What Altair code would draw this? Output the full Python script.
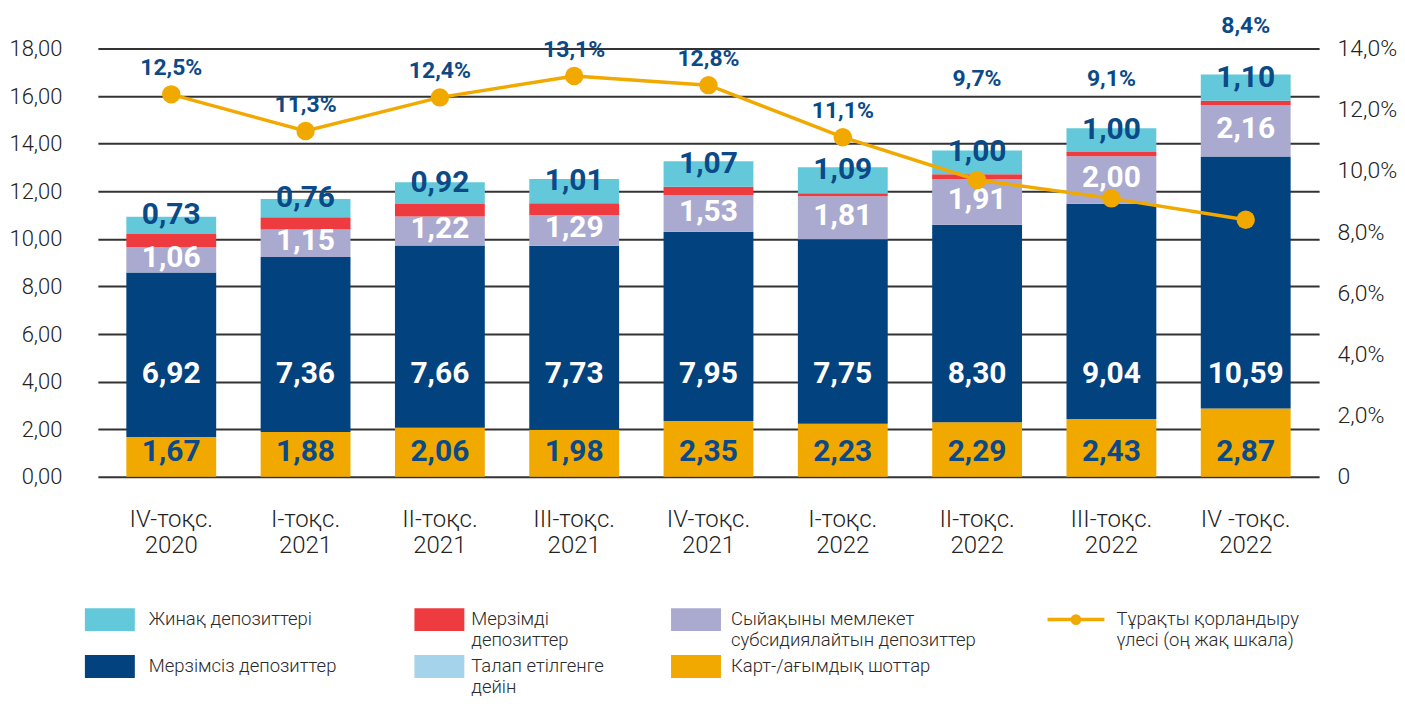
import altair as alt
import pandas as pd

quarters = ["IV-тоқс.\n2020", "I-тоқс.\n2021", "II-тоқс.\n2021", "III-тоқс.\n2021",
            "IV-тоқс.\n2021", "I-тоқс.\n2022", "II-тоқс.\n2022", "III-тоқс.\n2022",
            "IV -тоқс.\n2022"]

# stacked components (bottom -> top), trillions
current_acc = [1.67, 1.88, 2.06, 1.98, 2.35, 2.23, 2.29, 2.43, 2.87]   # Карт-/ағымдық шоттар
nonterm_dep = [6.92, 7.36, 7.66, 7.73, 7.95, 7.75, 8.30, 9.04, 10.59]  # Мерзімсіз депозиттер
demand_dep = [0.0, 0.0, 0.0, 0.0, 0.0, 0.0, 0.0, 0.0, 0.0]             # Талап етілгенге дейін
subsid_dep = [1.06, 1.15, 1.22, 1.29, 1.53, 1.81, 1.91, 2.00, 2.16]    # Сыйақыны мемлекет субсидиялайтын
term_dep = [0.55, 0.52, 0.52, 0.50, 0.36, 0.13, 0.21, 0.18, 0.18]      # Мерзімді депозиттер
savings_dep = [0.73, 0.76, 0.92, 1.01, 1.07, 1.09, 1.00, 1.00, 1.10]   # Жинақ депозиттері

stable_share = [12.5, 11.3, 12.4, 13.1, 12.8, 11.1, 9.7, 9.1, 8.4]     # %, right scale

series_names = ["Карт-/ағымдық шоттар", "Мерзімсіз депозиттер", "Талап етілгенге дейін",
                "Сыйақыны мемлекет субсидиялайтын депозиттер", "Мерзімді депозиттер",
                "Жинақ депозиттері"]
series_colors = ["#F1A900", "#02427F", "#A6D3EC", "#AAAAD0", "#EE3B3F", "#63C9DA"]
series_values = [current_acc, nonterm_dep, demand_dep, subsid_dep, term_dep, savings_dep]

LBL_BLUE = "#0B4A87"
LINE_ORANGE = "#F1A900"
FONT = "Roboto"
LEFT_MAX = 18.0
RIGHT_MAX = 14.0

# ---- build stacked table
rows = []
totals = []
for i, q in enumerate(quarters):
    base = 0.0
    for s, vals in zip(series_names, series_values):
        v = vals[i]
        rows.append({"q": q, "series": s, "y0": base, "y1": base + v, "value": v,
                     "label": f"{v:.2f}".replace(".", ",")})
        base += v
    totals.append(base)
bars = pd.DataFrame(rows)


def label_pos(r):
    s = r["series"]
    if s == "Карт-/ағымдық шоттар":
        return 1.03
    if s == "Мерзімсіз депозиттер":
        return 4.30
    if s == "Жинақ депозиттері":
        return (r["y0"] + r["y1"]) / 2 + 0.42
    return (r["y0"] + r["y1"]) / 2 + 0.08


bars["ly"] = bars.apply(label_pos, axis=1)
white_lbl = bars[bars["series"].isin(["Мерзімсіз депозиттер",
                                      "Сыйақыны мемлекет субсидиялайтын депозиттер"])]
blue_lbl = bars[bars["series"].isin(["Карт-/ағымдық шоттар", "Жинақ депозиттері"])]

line_rows = []
for i, q in enumerate(quarters):
    r = stable_share[i]
    top_pct = totals[i] * RIGHT_MAX / LEFT_MAX
    ly = r + 0.85 if r > top_pct else max(top_pct + 1.6, 13.0)
    line_rows.append({"q": q, "share": r, "ly": ly,
                      "label": f"{r:.1f}".replace(".", ",") + "%"})
line_df = pd.DataFrame(line_rows)

W, H = 1223, 429

x_enc = alt.X("q:N", sort=quarters,
              scale=alt.Scale(paddingInner=0.331, paddingOuter=0.212),
              axis=alt.Axis(title=None, labelAngle=0, ticks=False, domain=False,
                            labelExpr="split(datum.label, '\\n')",
                            labelPadding=31, labelFontSize=24, labelFont=FONT,
                            labelFontWeight=300, labelColor="#222222",
                            labelLineHeight=26, labelBaseline="top"))

yL = alt.Scale(domain=[0, LEFT_MAX], nice=False, zero=True)
yR = alt.Scale(domain=[0, RIGHT_MAX], nice=False, zero=True)

bar_layer = alt.Chart(bars).mark_bar().encode(
    x=x_enc,
    y=alt.Y("y1:Q", scale=yL,
            axis=alt.Axis(title=None, values=list(range(0, 19, 2)),
                          labelExpr="replace(format(datum.value, '.2f'), '.', ',')",
                          grid=True, gridColor="#333333", gridWidth=2, ticks=False,
                          tickSize=0, domain=False, labelPadding=36, labelFontSize=22,
                          labelFont=FONT, labelFontWeight=300, labelColor="#222222")),
    y2="y0:Q",
    color=alt.Color("series:N", scale=alt.Scale(domain=series_names, range=series_colors),
                    legend=None),
)

txt_white = alt.Chart(white_lbl).mark_text(
    font=FONT, fontWeight="bold", fontSize=30, color="white", baseline="middle"
).encode(x=alt.X("q:N", sort=quarters), y=alt.Y("ly:Q", scale=yL), text="label:N")

txt_blue = alt.Chart(blue_lbl).mark_text(
    font=FONT, fontWeight="bold", fontSize=30, color=LBL_BLUE, baseline="middle"
).encode(x=alt.X("q:N", sort=quarters), y=alt.Y("ly:Q", scale=yL), text="label:N")

left = alt.layer(bar_layer, txt_white, txt_blue)

line = alt.Chart(line_df).mark_line(color=LINE_ORANGE, strokeWidth=3.5).encode(
    x=alt.X("q:N", sort=quarters),
    y=alt.Y("share:Q", scale=yR,
            axis=alt.Axis(orient="right", title=None, values=list(range(0, 15, 2)),
                          labelExpr="datum.value == 0 ? '0' : replace(format(datum.value, '.1f'), '.', ',') + '%'",
                          grid=False, ticks=False, tickSize=0, domain=False,
                          labelPadding=18, labelFontSize=23, labelFont=FONT,
                          labelFontWeight=300, labelColor="#222222")),
)
pts = alt.Chart(line_df).mark_circle(color=LINE_ORANGE, size=340, opacity=1).encode(
    x=alt.X("q:N", sort=quarters), y=alt.Y("share:Q", scale=yR))
line_lbl = alt.Chart(line_df).mark_text(
    font=FONT, fontWeight="bold", fontSize=23, color=LBL_BLUE, baseline="middle"
).encode(x=alt.X("q:N", sort=quarters), y=alt.Y("ly:Q", scale=yR), text="label:N")

right = alt.layer(line, pts, line_lbl)

main = alt.layer(left, right).resolve_scale(y="independent").properties(width=W, height=H)

# ---- legend panel
leg_names = ["Жинақ депозиттері", "Мерзімді\nдепозиттер",
             "Сыйақыны мемлекет\nсубсидиялайтын депозиттер",
             "Тұрақты қорландыру\nүлесі (оң жақ шкала)",
             "Мерзімсіз депозиттер", "Талап етілгенге\nдейін", "Карт-/ағымдық шоттар"]
leg_colors = ["#63C9DA", "#EE3B3F", "#AAAAD0", LINE_ORANGE, "#02427F", "#A6D3EC", "#F1A900"]
leg_col = [0, 1, 2, 3, 0, 1, 2]
leg_row = [0, 0, 0, 0, 1, 1, 1]
leg_kind = ["box", "box", "box", "line", "box", "box", "box"]
leg = pd.DataFrame({"name": leg_names, "color": leg_colors, "col": leg_col,
                    "row": leg_row, "kind": leg_kind})

LH = 99
lx = alt.Scale(domain=[0, W], nice=False, zero=False)
ly = alt.Scale(domain=[0, LH], nice=False, zero=False, reverse=True)

base = alt.Chart(leg).transform_calculate(
    sx="[-13, 317, 574, 951][datum.col]",
    tx="[51, 374, 634, 1020][datum.col]",
    yc="[20, 67][datum.row]",
)
boxes = base.transform_filter("datum.kind == 'box'").transform_calculate(
    sx2="datum.sx + 50", ya="datum.yc - 11.5", yb="datum.yc + 11.5"
).mark_rect().encode(
    x=alt.X("sx:Q", scale=lx, axis=None), x2="sx2:Q",
    y=alt.Y("ya:Q", scale=ly, axis=None), y2="yb:Q",
    color=alt.Color("color:N", scale=None),
)
lrule = base.transform_filter("datum.kind == 'line'").transform_calculate(
    sx2="datum.sx + 57"
).mark_rule(strokeWidth=3.5).encode(
    x=alt.X("sx:Q", scale=lx, axis=None), x2="sx2:Q",
    y=alt.Y("yc:Q", scale=ly, axis=None),
    color=alt.Color("color:N", scale=None),
)
ldot = base.transform_filter("datum.kind == 'line'").transform_calculate(
    cx="datum.sx + 28.5"
).mark_circle(size=115, opacity=1).encode(
    x=alt.X("cx:Q", scale=lx, axis=None),
    y=alt.Y("yc:Q", scale=ly, axis=None),
    color=alt.Color("color:N", scale=None),
)
ltext = base.transform_calculate(ty="datum.yc - 10").mark_text(
    align="left", baseline="top", font=FONT, fontWeight=300, fontSize=18.5,
    lineBreak="\n", lineHeight=21, color="#2a2a2a"
).encode(
    x=alt.X("tx:Q", scale=lx, axis=None),
    y=alt.Y("ty:Q", scale=ly, axis=None),
    text="name:N",
)
legend = alt.layer(boxes, lrule, ldot, ltext).properties(width=W, height=LH)

chart = alt.vconcat(main, legend, spacing=42).properties(
    padding={"left": 0, "top": 6, "right": 0, "bottom": 0}
).configure_view(stroke=None)

chart.save("out.html", embed_options={"renderer": "svg", "actions": False})
